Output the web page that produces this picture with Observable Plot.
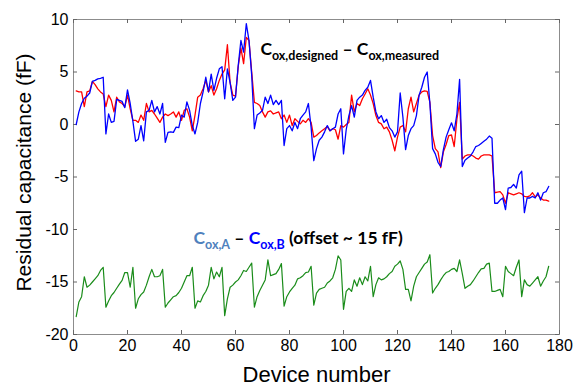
<!DOCTYPE html>
<html><head><meta charset="utf-8">
<script src="https://cdn.jsdelivr.net/npm/d3@7"></script>
<script src="https://cdn.jsdelivr.net/npm/@observablehq/plot@0.6"></script>
<style>body{margin:0;background:#fff}</style>
</head><body><div id="chart"></div>
<script>
const xTicks = [0, 20, 40, 60, 80, 100, 120, 140, 160, 180];
const yTicks = [-20, -15, -10, -5, 0, 5, 10];
const deviceNumber = d3.range(1, 177);

const designedMinusMeasuredBlue = [
 0.0, 1.2, 2.0, 2.5, 2.7, 3.0, 4.1, 4.2, 4.35, 4.4,
 4.5, -0.9, 1.0, 0.2, 0.3, 2.4, 2.3, 2.2, 1.6, 3.3,
 2.0, 0.3, -1.6, -1.4, -0.1, -1.55, 1.2, 1.35, 2.3, 1.2,
 1.7, 1.0, 2.0, -1.7, -0.75, -0.7, -0.75, -0.25, -0.3, 0.9,
 0.7, 2.15, 1.35, -0.1, -0.9, 0.2, 2.0, 3.1, 4.5, 3.1,
 4.8, 3.25, 4.4, 5.3, 5.5, 2.45, 5.3, 4.0, 2.3, 2.6,
 5.6, 8.0, 6.9, 9.6, 8.0, 4.7, -0.4, 0.9, 1.1, 1.35,
 2.6, 2.0, 2.8, 1.9, 2.3, 1.9, 2.3, -2.0, -0.4, -0.1,
 -0.6, 0.2, -0.4, 0.55, 0.9, 1.2, 2.0, -0.25, -3.45, -2.3,
 -1.5, -1.2, -0.7, -0.1, -0.6, -0.4, -0.25, 1.0, 1.5, -2.8,
 -0.5, 0.85, 1.8, 0.7, 2.3, 2.6, 2.8, 3.25, 3.55, 4.2,
 2.6, 1.2, 0.55, 0.85, 0.2, 0.5, -0.3, -0.6, -1.2, -0.7,
 3.0, 0.7, -2.4, -1.05, -0.4, -0.1, 0.85, 2.8, 3.55, 4.5,
 5.0, 2.0, -2.3, -2.8, -3.6, -4.0, -2.4, -1.2, -0.5, 0.16,
 -0.6, 1.0, 4.3, -4.0, -3.4, -3.2, -3.0, -2.6, -2.1, -2.0,
 -1.8, -1.6, -1.4, -1.1, -1.3, -7.5, -7.5, -7.2, -7.0, -8.1,
 -6.05, -6.0, -5.7, -6.05, -4.8, -4.45, -8.4, -7.0, -7.0, -6.85,
 -7.0, -6.5, -7.2, -6.5, -6.4, -5.9
];

const designedMinusMeasuredRed = [
 3.2, 3.1, 3.1, 1.7, 3.1, 3.2, 4.1, 3.8, 3.4, 3.1,
 2.9, 1.7, 2.8, 2.3, 1.2, 2.6, 2.15, 2.0, 1.7, 2.8,
 1.5, 0.4, 0.4, 0.2, 0.9, 0.4, 2.0, 1.2, 1.35, 1.0,
 0.6, 0.2, 0.7, 1.0, 0.85, 1.0, 1.2, 0.7, 1.2, 0.4,
 1.35, 1.5, 0.7, -0.6, 0.9, 2.6, 2.8, 3.4, 4.2, 3.1,
 3.7, 2.8, 3.4, 4.2, 4.8, 5.2, 7.6, 4.0, 2.8, 2.7,
 5.5, 7.3, 5.8, 8.3, 8.0, 5.0, 2.1, 2.0, 1.8, 1.2,
 0.7, 1.2, 1.3, 1.0, 1.1, 1.2, 0.55, 0.9, 0.2, 0.9,
 -0.1, 0.55, 0.3, 0.06, 0.4, 0.2, 0.55, 0.2, -1.2, -1.05,
 -0.8, -0.6, -0.4, -0.2, -0.6, -0.4, -0.5, -1.4, -0.1, -0.25,
 0.0, 0.2, 2.8, 1.2, 2.0, 1.8, 2.45, 2.9, 3.4, 2.8,
 2.0, 0.85, 0.2, 0.06, -0.4, -0.25, -0.7, -1.5, -2.5, -1.2,
 -0.25, -0.1, -0.7, 1.5, 2.6, 1.2, 2.0, 2.8, 3.1, 3.2,
 3.15, 2.1, -1.05, -2.3, -2.6, -4.1, -2.6, -1.9, -1.05, -1.0,
 -2.1, 0.5, 2.1, -3.3, -3.0, -2.9, -2.9, -3.0, -3.2, -3.3,
 -3.0, -2.9, -2.9, -2.9, -3.0, -6.5, -6.45, -6.4, -6.7, -7.5,
 -6.5, -6.6, -6.7, -6.6, -6.5, -6.6, -6.85, -6.9, -6.8, -6.5,
 -6.9, -6.7, -7.0, -7.2, -7.2, -7.3
];

const aMinusBOffset = [
 -18.3, -16.9, -16.4, -14.5, -15.5, -15.3, -15.0, -14.7, -14.4, -13.9,
 -13.6, -17.4, -16.8, -16.3, -16.0, -15.6, -15.2, -14.85, -14.1, -14.1,
 -15.5, -13.6, -17.5, -16.6, -16.2, -15.95, -15.3, -14.5, -13.8, -14.5,
 -14.5, -14.4, -13.8, -17.4, -17.0, -16.7, -16.4, -16.3, -16.0, -15.6,
 -15.0, -14.4, -14.4, -13.6, -17.5, -16.8, -16.9, -16.3, -15.9, -15.3,
 -13.6, -14.7, -14.05, -14.5, -13.6, -18.2, -16.6, -15.5, -15.3, -15.0,
 -14.8, -14.4, -13.9, -14.0, -13.6, -13.2, -17.4, -16.4, -15.8, -15.3,
 -14.8, -12.9, -14.4, -14.3, -14.2, -13.8, -13.25, -17.3, -16.4, -15.95,
 -15.6, -15.3, -14.7, -14.6, -14.4, -14.1, -14.05, -13.5, -17.2, -16.05,
 -15.7, -15.6, -15.5, -15.1, -14.9, -14.6, -13.8, -12.5, -12.9, -17.6,
 -15.9, -15.6, -15.9, -14.8, -15.4, -14.6, -15.25, -14.5, -14.9, -13.5,
 -16.4, -15.25, -14.6, -14.8, -14.7, -14.5, -14.2, -14.0, -13.5, -13.3,
 -13.0, -13.8, -15.7, -15.7, -16.8, -15.4, -14.5, -14.1, -13.7, -13.3,
 -13.1, -12.4, -16.05, -15.6, -15.25, -14.8, -14.4, -14.1, -14.0, -13.8,
 -13.7, -14.0, -12.9, -14.2, -15.6, -15.4, -15.25, -14.9, -14.5, -14.1,
 -13.75, -13.7, -13.3, -13.2, -15.9, -15.9, -15.8, -15.7, -16.4, -13.5,
 -14.0, -14.2, -14.4, -13.6, -12.9, -16.4, -14.8, -15.25, -15.4, -15.1,
 -14.8, -14.5, -15.4, -14.9, -14.5, -13.5
];

const xTitle = "Device number";
const yTitle = "Residual capacitance (fF)";
// annotation parts: [text, isSubscript, color]
const annotationTop = [["C", false, "#000"], ["ox,designed", true, "#000"], [" – ", false, "#000"], ["C", false, "#000"], ["ox,measured", true, "#000"]];
const annotationTopAt = [69.4, 6.6];
const annotationBottom = [["C", false, "#4f81bd"], ["ox,A", true, "#4f81bd"], [" – ", false, "#000"], ["C", false, "#0000ff"], ["ox,B", true, "#0000ff"], [" (offset ~ 15 fF)", false, "#000"]];
const annotationBottomAt = [44.6, -11.4];

const toRows = (vals) => vals.map((v, i) => ({device: deviceNumber[i], value: v}));

const W = 574, H = 390, mL = 73, mR = 15, mT = 19, mB = 56;
const innerW = W - mL - mR, innerH = H - mT - mB;
const tickColor = "#666";

const plot = Plot.plot({
  width: W, height: H,
  marginLeft: mL, marginRight: mR, marginTop: mT, marginBottom: mB,
  style: {fontFamily: "'Liberation Sans', Arial, sans-serif", fontSize: "16px", color: "#000", background: "#fff"},
  x: {domain: [0, 180]},
  y: {domain: [-20, 10]},
  marks: [
    Plot.frame({stroke: "#8c8c8c"}),
    Plot.tickX(xTicks, {x: d => d, stroke: tickColor, insetTop: innerH - 4}),
    Plot.tickX(xTicks, {x: d => d, stroke: tickColor, insetBottom: innerH - 4}),
    Plot.tickY(yTicks, {y: d => d, stroke: tickColor, insetRight: innerW - 4}),
    Plot.tickY(yTicks, {y: d => d, stroke: tickColor, insetLeft: innerW - 4}),
    Plot.axisX(xTicks, {tickSize: 0, tickPadding: 5, label: null, fontSize: 16}),
    Plot.axisY(yTicks, {tickSize: 0, tickPadding: 5, label: null, fontSize: 16, tickFormat: d => String(d)}),
    Plot.line(toRows(designedMinusMeasuredRed), {x: "device", y: "value", stroke: "#ff0000", strokeWidth: 1.3}),
    Plot.line(toRows(designedMinusMeasuredBlue), {x: "device", y: "value", stroke: "#0000ff", strokeWidth: 1.3}),
    Plot.line(toRows(aMinusBOffset), {x: "device", y: "value", stroke: "#1a8c1a", strokeWidth: 1.2}),
    Plot.text([xTitle], {text: d => d, frameAnchor: "bottom", dy: 47, fontSize: 22})
  ]
});

const svg = d3.select(plot);
const xs = plot.scale("x"), ys = plot.scale("y");

svg.append("text")
  .attr("transform", `translate(25,${(mT + H - mB) / 2 - 4}) rotate(-90)`)
  .attr("text-anchor", "middle")
  .attr("dominant-baseline", "middle")
  .attr("font-size", 21)
  .attr("fill", "#000")
  .text(yTitle);

function rich(at, parts) {
  const t = svg.append("text")
    .attr("x", xs.apply(at[0])).attr("y", ys.apply(at[1]))
    .attr("text-anchor", "start")
    .attr("font-family", "Lato, 'Open Sans', sans-serif")
    .attr("font-weight", "bold");
  let sub = false;
  parts.forEach(([txt, isSub, color]) => {
    const dy = isSub && !sub ? 5 : (!isSub && sub ? -5 : 0);
    sub = isSub;
    t.append("tspan").attr("dy", dy).attr("font-size", isSub ? 12.5 : 17.5)
      .attr("fill", color).style("white-space", "pre").text(txt);
  });
}
rich(annotationTopAt, annotationTop);
rich(annotationBottomAt, annotationBottom);

document.getElementById("chart").append(plot);
</script>
</body></html>
